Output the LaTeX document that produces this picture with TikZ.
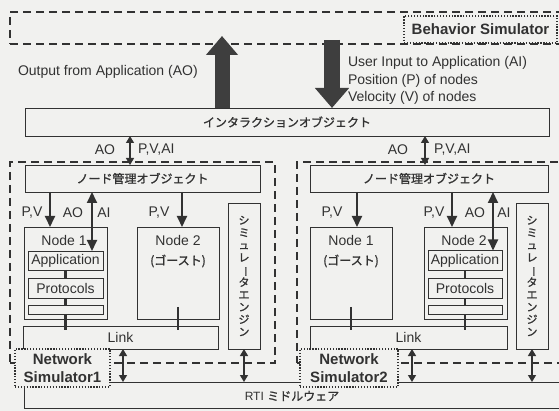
\documentclass[tikz,border=0pt]{standalone}
\usepackage{fontspec}
\setmainfont{Liberation Sans}
\newfontfamily\jp[FakeBold=1.2]{Noto Sans CJK JP}
\usetikzlibrary{arrows.meta}
\definecolor{bg}{RGB}{241,241,239}
\definecolor{ln}{RGB}{50,50,50}
\definecolor{bigarr}{RGB}{62,62,62}
\begin{document}
\begin{tikzpicture}[x=1pt,y=-1pt,
  every node/.style={inner sep=0pt, outer sep=0pt, text=ln},
  box/.style={draw=ln, line width=0.9pt, fill=bg, rectangle},
  dashreg/.style={draw=ln, line width=1.6pt, dash pattern=on 8pt off 5pt, rectangle},
  dotbox/.style={draw=ln, line width=1.3pt, dash pattern=on 1.3pt off 1.6pt, fill=bg, rectangle,
    font=\bfseries\fontsize{15}{18}\selectfont, align=center},
  lbl/.style={font=\fontsize{14}{17}\selectfont},
  jpl/.style={font=\jp\fontsize{12}{14}\selectfont},
  arr/.style={draw=ln, line width=1.8pt, -{Triangle[width=10pt,length=11pt]}},
  darr/.style={draw=ln, line width=1.8pt, {Triangle[width=10pt,length=11pt]}-{Triangle[width=10pt,length=11pt]}},
  sdarr/.style={draw=ln, line width=1.3pt, {Triangle[width=8pt,length=7pt]}-{Triangle[width=8pt,length=7pt]}},
  conn/.style={draw=ln, line width=2.8pt},
  bigup/.style={draw=bigarr, line width=15pt, -{Triangle[width=31pt,length=19pt]}},
  bigdown/.style={draw=bigarr, line width=16pt, -{Triangle[width=33pt,length=20pt]}},
]
\useasboundingbox (0,0) rectangle (559,411);
\fill[bg] (0,0) rectangle (559,411);

% dashed regions
\node[dashreg, minimum width=560pt, minimum height=32pt] (behav) at (290,28) {};
\node[dashreg, minimum width=265pt, minimum height=201pt] (reg1) at (142.5,262.5) {};
\node[dashreg, minimum width=303pt, minimum height=201pt] (reg2) at (448.5,262.5) {};

% RTI
\node[box, minimum width=576pt, minimum height=26pt] (rti) at (312,395) {};
\node[font=\fontsize{12}{14}\selectfont] (rtitext) at (292,396) {RTI {\jp ミドルウェア}};

% behavior simulator label
\node[dotbox, minimum width=153pt, minimum height=27pt] (bsim) at (480.5,29.5) {Behavior Simulator};

% interaction object
\node[box, minimum width=524pt, minimum height=28pt, jpl] (inter) at (287,122) {インタラクションオブジェクト};

% big arrows
\coordinate (aotip) at (222,36);
\coordinate (aistart) at (332,40);
\draw[bigup] (inter.north -| aotip) -- (aotip);
\draw[bigdown] (aistart) -- (inter.north -| aistart);
\node[lbl, anchor=west] (aotext) at (18,72) {Output from Application (AO)};
\node[lbl, anchor=west, align=left, font=\fontsize{14}{17.5}\selectfont] (aitext) at (348,80.5)
  {User Input to Application (AI)\\Position (P) of nodes\\Velocity (V) of nodes};

% node management objects
\node[box, minimum width=235pt, minimum height=27pt, jpl] (ni1) at (142.5,178.5) {ノード管理オブジェクト};
\node[box, minimum width=238pt, minimum height=27pt, jpl] (ni2) at (429,178.5) {ノード管理オブジェクト};

% ---------- left simulator ----------
\node[box, minimum width=83pt, minimum height=92pt] (n1L) at (65.5,273) {};
\node[lbl] (n1Lt) at (64,240) {Node 1};
\node[box, minimum width=75pt, minimum height=19pt, lbl] (appL) at (65.5,260.5) {Application};
\node[box, minimum width=75pt, minimum height=20pt, lbl] (protL) at (65.5,288) {Protocols};
\node[box, minimum width=75pt, minimum height=9pt] (thinL) at (65.5,309.5) {};
\node[box, minimum width=82pt, minimum height=92pt] (n2L) at (178,273) {};
\node[lbl] (n2Lt) at (178,240) {Node 2};
\node[jpl] (n2Lg) at (178,261) {(ゴースト)};
\node[box, minimum width=195pt, minimum height=23pt, lbl] (linkL) at (120.5,337.5) {Link};
\node[box, minimum width=32pt, minimum height=146pt] (engL) at (244,276) {};
\node[align=center, font=\jp\fontsize{11}{12.4}\selectfont] (engLt) at (244,276)
  {シ\\ミ\\ュ\\レ\\\rotatebox[origin=c]{-90}{ー}\\タ\\エ\\ン\\ジ\\ン};

% ---------- right simulator ----------
\node[box, minimum width=82pt, minimum height=92pt] (n1R) at (351,273) {};
\node[lbl] (n1Rt) at (351,240) {Node 1};
\node[jpl] (n1Rg) at (351,261) {(ゴースト)};
\node[box, minimum width=83pt, minimum height=92pt] (n2R) at (465.5,273) {};
\node[lbl] (n2Rt) at (464,240) {Node 2};
\node[box, minimum width=74pt, minimum height=20pt, lbl] (appR) at (465,260.5) {Application};
\node[box, minimum width=74pt, minimum height=20pt, lbl] (protR) at (465,288.5) {Protocols};
\node[box, minimum width=74pt, minimum height=9pt] (thinR) at (465,310) {};
\node[box, minimum width=197pt, minimum height=23pt, lbl] (linkR) at (408.5,337.5) {Link};
\node[box, minimum width=32pt, minimum height=146pt] (engR) at (532,276) {};
\node[align=center, font=\jp\fontsize{11}{12.4}\selectfont] (engRt) at (532,276)
  {シ\\ミ\\ュ\\レ\\\rotatebox[origin=c]{-90}{ー}\\タ\\エ\\ン\\ジ\\ン};

% network simulator labels
\node[dotbox, minimum width=95pt, minimum height=38pt] (ns1) at (62.5,368) {Network\\Simulator1};
\node[dotbox, minimum width=98pt, minimum height=38pt] (ns2) at (349,368) {Network\\Simulator2};

% interaction <-> node management
\coordinate (xA) at (130,0);
\coordinate (xB) at (425,0);
\draw[sdarr] (inter.south -| xA) -- (ni1.north -| xA);
\draw[sdarr] (inter.south -| xB) -- (ni2.north -| xB);
\node[lbl] (aoA) at (105,150) {AO};
\node[lbl, anchor=west] (pvaiA) at (138,150) {P,V,AI};
\node[lbl] (aoB) at (398,150) {AO};
\node[lbl, anchor=west] (pvaiB) at (434,150) {P,V,AI};

% node management -> nodes
\coordinate (x1) at (50,0);
\coordinate (x2) at (92,0);
\coordinate (x3) at (182,0);
\coordinate (x4) at (357,0);
\coordinate (x5) at (452,0);
\coordinate (x6) at (493,0);
\draw[arr] (ni1.south -| x1) -- (n1L.north -| x1);
\draw[darr] (ni1.south -| x2) -- (appL.north -| x2);
\draw[arr] (ni1.south -| x3) -- (n2L.north -| x3);
\draw[arr] (ni2.south -| x4) -- (n1R.north -| x4);
\draw[arr] (ni2.south -| x5) -- (n2R.north -| x5);
\draw[darr] (ni2.south -| x6) -- (appR.north -| x6);
\node[lbl] (pv1) at (32,213) {P,V};
\node[lbl] (ao1) at (73,213) {AO};
\node[lbl] (ai1) at (104,213) {AI};
\node[lbl] (pv2) at (159,213) {P,V};
\node[lbl] (pv3) at (332,213) {P,V};
\node[lbl] (pv4) at (434,213) {P,V};
\node[lbl] (ao2) at (475,213) {AO};
\node[lbl] (ai2) at (504,213) {AI};

% stack connectors
\draw[conn] (appL.south) -- (protL.north);
\draw[conn] (protL.south) -- (thinL.north);
\draw[conn, shorten >=-4pt] (thinL.south) -- (thinL.south |- linkL.north);
\draw[conn] (appR.south) -- (protR.north);
\draw[conn] (protR.south) -- (thinR.north);
\draw[conn, shorten >=-4pt] (thinR.south) -- (thinR.south |- linkR.north);
\coordinate (g2L) at (178,307);
\coordinate (g1R) at (351,307);
\draw[conn, shorten >=-4pt] (g2L) -- (g2L |- linkL.north);
\draw[conn, shorten >=-4pt] (g1R) -- (g1R |- linkR.north);

% link / engine <-> RTI
\coordinate (b1) at (123,0);
\coordinate (b3) at (412,0);
\draw[sdarr] (linkL.south -| b1) -- (rti.north -| b1);
\draw[sdarr] (engL.south) -- (engL.south |- rti.north);
\draw[sdarr] (linkR.south -| b3) -- (rti.north -| b3);
\draw[sdarr] (engR.south) -- (engR.south |- rti.north);
\end{tikzpicture}
\end{document}
